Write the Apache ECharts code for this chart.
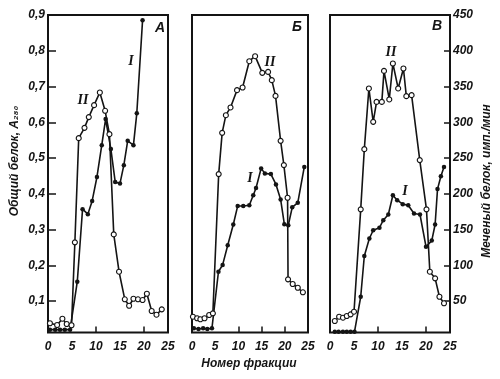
<!DOCTYPE html>
<html><head><meta charset="utf-8">
<script src="https://cdn.jsdelivr.net/npm/echarts@6/dist/echarts.min.js"></script>
<style>html,body{margin:0;padding:0;background:#fff}#c{width:500px;height:379px}</style>
</head><body><div id="c"></div>
<script>
// ---- data: x = fraction number, I = total protein (A280), II = labelled protein (cpm)
const fracA_I  = [0.4,1.5,2.5,3.5,4.6,6.1,7.2,8.3,9.2,10.2,11.2,12.0,13.1,14.0,15.0,15.8,16.6,17.8,18.5,19.7];
const protA_I  = [0.020,0.020,0.020,0.020,0.020,0.154,0.357,0.343,0.380,0.447,0.536,0.609,0.525,0.433,0.429,0.480,0.548,0.536,0.625,0.885];
const fracA_II = [0.4,1.9,3.0,3.9,4.9,5.6,6.4,7.6,8.5,9.6,10.8,11.9,12.8,13.7,14.8,16.0,16.9,17.8,18.75,19.7,20.6,21.6,22.6,23.7];
const cpmA_II  = [18.9,16.5,25.3,17.9,16.1,132.1,277.8,292.2,307.2,323.9,341.7,316.0,283.4,143.2,91.0,52.4,43.4,53.2,52.4,51.4,60.2,36.1,30.9,38.4];

const fracB_I  = [0.4,1.4,2.4,3.3,4.3,5.7,6.6,7.7,8.9,9.85,11.05,12.35,13.2,13.8,14.9,15.7,17.0,18.1,19.1,19.9,20.75,21.6,22.8,24.2];
const protB_I  = [0.024,0.022,0.024,0.022,0.024,0.182,0.201,0.256,0.314,0.366,0.366,0.368,0.396,0.416,0.471,0.457,0.455,0.426,0.384,0.315,0.312,0.362,0.375,0.475];
const fracB_II = [0.2,1.1,1.8,2.7,3.7,4.5,5.75,6.5,7.3,8.3,9.7,10.9,12.35,13.6,15.15,16.4,17.2,18.0,19.1,19.8,20.6,20.7,21.7,22.8,23.9];
const cpmB_II  = [28.1,25.9,24.5,25.9,30.5,32.8,227.5,285.2,309.9,320.7,344.9,348.6,385.4,392.4,369.1,370.4,358.9,336.9,274.0,240.1,194.4,80.3,73.8,68.6,62.2];

const fracC_I  = [1.0,1.8,2.7,3.5,4.3,5.1,6.4,7.15,8.2,9.0,10.3,11.1,12.15,13.1,14.0,15.15,16.3,17.5,18.75,20.0,21.2,21.9,22.4,23.1,23.75];
const protC_I  = [0.014,0.014,0.014,0.014,0.014,0.014,0.112,0.226,0.275,0.298,0.305,0.326,0.342,0.396,0.382,0.371,0.368,0.345,0.342,0.252,0.269,0.314,0.413,0.449,0.475];
const fracC_II = [1.0,1.9,2.7,3.5,4.3,5.0,6.4,7.15,8.1,9.0,9.7,10.8,11.25,12.35,13.1,14.2,15.3,15.9,17.0,18.7,20.1,20.8,21.9,22.8,23.75];
const cpmC_II  = [22.1,28.1,26.7,29.1,31.4,35.1,178.2,262.4,347.3,300.6,328.5,328.5,371.8,331.9,382.2,347.3,375.2,336.5,337.9,247.1,178.2,91.0,81.7,56.0,46.8];

const xTickLabels = [0,5,10,15,20,25];
const leftTickLabels = [0.1,0.2,0.3,0.4,0.5,0.6,0.7,0.8,0.9];
const rightTickLabels = [50,100,150,200,250,300,350,400,450];
const panelNames = ['А','Б','В'];

// ---- chart
const ink = '#141414';
const numFont = {fontFamily:'Liberation Sans', fontStyle:'italic', fontWeight:'bold', fontSize:12, color:ink};
const pair = (xs, ys) => xs.map((x,i)=>[x, ys[i]]);

const grids = [
  {left:48, width:120, top:15, height:317.5},
  {left:192, width:116, top:15, height:317.5},
  {left:330, width:120, top:15, height:317.5}
].map(g => Object.assign(g, {show:true, borderColor:ink, borderWidth:2, backgroundColor:'transparent', containLabel:false}));

const xTickSets = [[10,20],[10,15,20],[10,20]];
const xAxes = grids.map((g,i)=>({
  type:'value', gridIndex:i, min:0, max:25,
  axisLine:{show:false},
  splitLine:{show:false},
  axisTick:{show:true, inside:true, length:6, customValues:xTickSets[i], lineStyle:{color:ink, width:1.5}},
  axisLabel:Object.assign({show:true, customValues:xTickLabels, margin:8}, numFont)
}));

const yAxes = [];
grids.forEach((g,i)=>{
  yAxes.push({
    type:'value', gridIndex:i, position:'left', min:0.012, max:0.9,
    axisLine:{show:false}, splitLine:{show:false},
    axisTick:{show:i===0, inside:true, length:8, customValues:leftTickLabels.slice(0,8), lineStyle:{color:ink, width:1.5}},
    axisLabel:Object.assign({show:i===0, customValues:leftTickLabels, margin:3,
      formatter:v=>v.toFixed(1).replace('.',',')}, numFont)
  });
  yAxes.push({
    type:'value', gridIndex:i, position:'right', min:6, max:450,
    axisLine:{show:false}, splitLine:{show:false},
    axisTick:{show:i===2, inside:true, length:6, customValues:rightTickLabels.slice(0,8), lineStyle:{color:ink, width:1.5}},
    axisLabel:Object.assign({show:i===2, customValues:rightTickLabels, margin:3}, numFont)
  });
});

const seriesI = [[fracA_I,protA_I],[fracB_I,protB_I],[fracC_I,protC_I]];
const seriesII = [[fracA_II,cpmA_II],[fracB_II,cpmB_II],[fracC_II,cpmC_II]];
const series = [];
seriesI.forEach((s,i)=>series.push({
  name:'I', type:'line', xAxisIndex:i, yAxisIndex:2*i, data:pair(s[0],s[1]),
  symbol:'circle', symbolSize:4.5, showAllSymbol:true, itemStyle:{color:ink},
  lineStyle:{color:ink, width:1.6}, z:3
}));
seriesII.forEach((s,i)=>series.push({
  name:'II', type:'line', xAxisIndex:i, yAxisIndex:2*i+1, data:pair(s[0],s[1]),
  symbol:'circle', symbolSize:5, showAllSymbol:true,
  itemStyle:{color:'#ffffff', borderColor:ink, borderWidth:1.1},
  lineStyle:{color:ink, width:1.6}, z:4
}));

const romanFont = {fontFamily:'Liberation Serif', fontStyle:'italic', fontWeight:'bold', fontSize:14, fill:ink};
const letterFont = {fontFamily:'Liberation Sans', fontStyle:'italic', fontWeight:'bold', fontSize:14, fill:ink};
const titleFont = {fontFamily:'Liberation Sans', fontStyle:'italic', fontWeight:'bold', fontSize:12, fill:ink};
const t = (x,y,text,style,extra)=>Object.assign({type:'text', x:x, y:y, style:Object.assign({text:text, align:'center', verticalAlign:'middle'}, style)}, extra||{});

const graphic = [
  t(160,28,panelNames[0],letterFont), t(297,27,panelNames[1],letterFont), t(437,26,panelNames[2],letterFont),
  t(131,61,'I',romanFont), t(83,100,'II',romanFont),
  t(270,62,'II',romanFont), t(250,178,'I',romanFont),
  t(391,52,'II',romanFont), t(405,191,'I',romanFont),
  t(15,161,'Общий белок, A₂₈₀',titleFont,{rotation:Math.PI/2}),
  t(487,181,'Меченый белок, имп./мин',titleFont,{rotation:Math.PI/2}),
  t(249,364,'Номер фракции',titleFont)
];

const chart = echarts.init(document.getElementById('c'), null, {renderer:'canvas'});
chart.setOption({animation:false, backgroundColor:'#fff', grid:grids, xAxis:xAxes, yAxis:yAxes, series:series, graphic:graphic});
</script>
</body></html>
